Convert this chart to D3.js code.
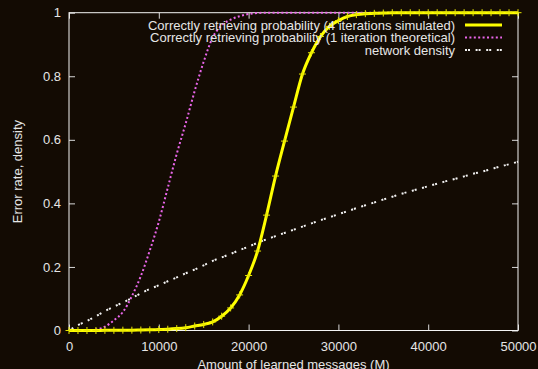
<!DOCTYPE html>
<html>
<head>
<meta charset="utf-8">
<script src="https://cdn.jsdelivr.net/npm/d3@7"></script>
<style>
    html, body { margin: 0; padding: 0; background: #130b03; }
    svg { display: block; font-family: "Liberation Sans", Arial, sans-serif; }
    .tick text, .label { fill: #e6e6e6; font-size: 13px; }
    .tick line { stroke: #d8d8d8; }
</style>
</head>
<body>
<div id="chart"></div>
<script>
var messages = [0, 1000, 2000, 3000, 4000, 5000, 6000, 7000, 8000, 9000,
    10000, 11000, 12000, 13000, 14000, 15000, 16000, 17000, 18000, 19000,
    20000, 21000, 22000, 23000, 24000, 25000, 26000, 27000, 28000, 29000,
    30000, 31000, 32000, 33000, 34000, 35000, 36000, 37000, 38000, 39000,
    40000, 41000, 42000, 43000, 44000, 45000, 46000, 47000, 48000, 49000, 50000];

// 4 iterations, simulated
var simulated = [0, 0, 0, 0, 0.0005, 0.0005, 0.001, 0.001, 0.0015, 0.002,
    0.003, 0.004, 0.006, 0.009, 0.014, 0.019, 0.027, 0.045, 0.071, 0.112,
    0.173, 0.25, 0.363, 0.486, 0.596, 0.703, 0.807, 0.874, 0.925, 0.957,
    0.975, 0.988, 0.994, 0.997, 0.998, 0.999, 1, 1, 1, 1,
    1, 1, 1, 1, 1, 1, 1, 1, 1, 1, 1];

// 1 iteration, theoretical
var theoretical = [0, 0, 0.0005, 0.003, 0.012, 0.032, 0.058, 0.108, 0.171, 0.252,
    0.342, 0.449, 0.556, 0.652, 0.754, 0.846, 0.922, 0.96, 0.978, 0.989,
    0.996, 0.999, 1, 1, 1, 1, 1, 1, 1, 1,
    1, 1, 1, 1, 1, 1, 1, 1, 1, 1,
    1, 1, 1, 1, 1, 1, 1, 1, 1, 1, 1];

var density = [0, 0.017, 0.030, 0.045, 0.061, 0.075, 0.088, 0.102, 0.117, 0.131,
    0.142, 0.155, 0.167, 0.180, 0.192, 0.205, 0.219, 0.230, 0.241, 0.253,
    0.264, 0.276, 0.287, 0.297, 0.307, 0.317, 0.327, 0.337, 0.347, 0.356,
    0.366, 0.375, 0.385, 0.394, 0.403, 0.412, 0.421, 0.430, 0.438, 0.446,
    0.454, 0.462, 0.470, 0.477, 0.485, 0.493, 0.500, 0.508, 0.516, 0.523, 0.531];

var xTicks = [0, 10000, 20000, 30000, 40000, 50000];
var yTicks = [0, 0.2, 0.4, 0.6, 0.8, 1];

var legendLabels = [
    "Correctly retrieving probability (4 iterations simulated)",
    "Correctly retrieving probability (1 iteration theoretical)",
    "network density"
];

var width = 538, height = 369;
var margin = {top: 12.7, right: 20, bottom: 38.5, left: 69};
var innerW = width - margin.left - margin.right;
var innerH = height - margin.top - margin.bottom;

var x = d3.scaleLinear().domain([0, 50000]).range([0, innerW]);
var y = d3.scaleLinear().domain([0, 1]).range([innerH, 0]);

var svg = d3.select("#chart").append("svg")
    .attr("width", width)
    .attr("height", height);

var g = svg.append("g")
    .attr("transform", "translate(" + margin.left + "," + margin.top + ")");

// axes, ticks pointing inward like gnuplot
g.append("g")
    .attr("transform", "translate(0," + innerH + ")")
    .call(d3.axisBottom(x).tickValues(xTicks).tickSize(-6).tickPadding(11).tickFormat(d3.format("d")));
g.append("g")
    .call(d3.axisTop(x).tickValues(xTicks).tickSize(-6).tickFormat(""));
g.append("g")
    .call(d3.axisLeft(y).tickValues(yTicks).tickSize(-6).tickPadding(8).tickFormat(d3.format("")));
g.append("g")
    .attr("transform", "translate(" + innerW + ",0)")
    .call(d3.axisRight(y).tickValues(yTicks).tickSize(-6).tickFormat(""));
g.selectAll(".domain").remove();
g.selectAll(".tick text").attr("font-size", null).attr("font-family", null);

g.append("rect")
    .attr("width", innerW)
    .attr("height", innerH)
    .attr("fill", "none")
    .attr("stroke", "#f4f4f4")
    .attr("stroke-width", 1);

// axis titles
svg.append("text")
    .attr("class", "label")
    .attr("x", margin.left + innerW / 2)
    .attr("y", 368.5)
    .attr("text-anchor", "middle")
    .text("Amount of learned messages (M)");
svg.append("text")
    .attr("class", "label")
    .attr("transform", "translate(21.5," + (margin.top + innerH / 2) + ") rotate(-90)")
    .attr("text-anchor", "middle")
    .text("Error rate, density");

// legend text first: the curves are drawn over it
var styles = [
    {color: "#ffff00", width: 3, dash: null},
    {color: "#ea66ea", width: 2, dash: "2,2.4"},
    {color: "#f2f2f2", width: 2, dash: "2,1,2,5.6"}
];
var legend = svg.append("g").attr("class", "legend");
var rows = legend.selectAll("g")
    .data(legendLabels)
    .enter().append("g")
    .attr("transform", function (d, i) {
        return "translate(0," + (25 + i * 12.5) + ")";
    });
rows.append("text")
    .attr("class", "label")
    .attr("x", 455)
    .attr("dy", "0.35em")
    .attr("text-anchor", "end")
    .text(function (d) { return d; });
rows.append("line")
    .attr("x1", 465).attr("x2", 502)
    .attr("stroke", function (d, i) { return styles[i].color; })
    .attr("stroke-width", function (d, i) { return styles[i].width; })
    .attr("stroke-dasharray", function (d, i) { return styles[i].dash; });

var plot = g.append("g");

function lineFor(values) {
    return d3.line()
        .x(function (d, i) { return x(messages[i]); })
        .y(function (d) { return y(d); })
        .curve(d3.curveMonotoneX)(values);
}

plot.append("path")
    .attr("d", lineFor(density))
    .attr("fill", "none")
    .attr("stroke", styles[2].color)
    .attr("stroke-width", styles[2].width)
    .attr("stroke-dasharray", styles[2].dash);

plot.append("path")
    .attr("d", lineFor(theoretical))
    .attr("fill", "none")
    .attr("stroke", styles[1].color)
    .attr("stroke-width", styles[1].width)
    .attr("stroke-dasharray", styles[1].dash);

plot.append("path")
    .attr("d", lineFor(simulated))
    .attr("fill", "none")
    .attr("stroke", styles[0].color)
    .attr("stroke-width", styles[0].width)
    .attr("stroke-linejoin", "round");

// "+" point markers on the simulated series
var marks = plot.selectAll("g.mark")
    .data(simulated)
    .enter().append("g")
    .attr("class", "mark")
    .attr("transform", function (d, i) {
        return "translate(" + x(messages[i]) + "," + y(d) + ")";
    });
marks.append("path")
    .attr("d", "M-3.5,0H3.5M0,-3.5V3.5")
    .attr("stroke", "#e8e800")
    .attr("stroke-width", 1);
</script>
</body>
</html>
